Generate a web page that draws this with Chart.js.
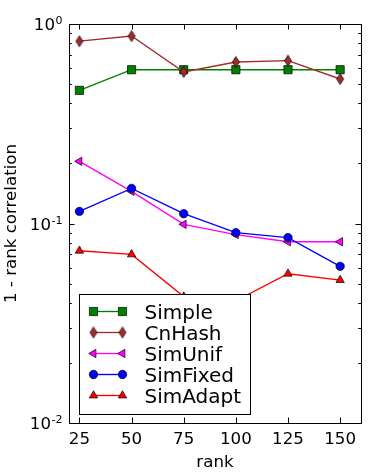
<!DOCTYPE html>
<html><head><meta charset="utf-8">
<script src="https://cdn.jsdelivr.net/npm/chart.js@4/dist/chart.umd.min.js"></script>
<style>html,body{margin:0;padding:0;background:#fff;}</style>
</head><body>
<canvas id="c" width="376" height="473" style="display:block;width:376px;height:473px"></canvas>
<script>
// ---- data ----
const ranks = [25, 50, 75, 100, 125, 150];
const seriesNames = ['Simple', 'CnHash', 'SimUnif', 'SimFixed', 'SimAdapt'];
const simple   = [0.465, 0.59, 0.59, 0.59, 0.59, 0.59];
const cnHash   = [0.82, 0.87, 0.575, 0.645, 0.655, 0.53];
const simUnif  = [0.205, 0.145, 0.099, 0.088, 0.081, 0.081];
const simFixed = [0.115, 0.150, 0.112, 0.090, 0.085, 0.061];
const simAdapt = [0.073, 0.070, 0.043, 0.041, 0.056, 0.052];
const xTicks = [25, 50, 75, 100, 125, 150];
const yTicks = [0.01, 0.1, 1];
const xLabel = 'rank';
const yLabel = '1 - rank correlation';

// ---- styles ----
function makeDiamond(color) {
  const c = document.createElement('canvas');
  c.width = 10; c.height = 14;
  const g = c.getContext('2d');
  g.beginPath();
  g.moveTo(5, 1.5); g.lineTo(8.5, 7); g.lineTo(5, 12.5); g.lineTo(1.5, 7); g.closePath();
  g.fillStyle = color; g.fill();
  g.lineWidth = 0.7; g.strokeStyle = '#000'; g.stroke();
  return c;
}
const styles = [
  { color: '#008000', pointStyle: 'rect', radius: 5.8, rotation: 0 },
  { color: '#A52A2A', pointStyle: makeDiamond('#A52A2A'), radius: 5, rotation: 0 },
  { color: '#FF00FF', pointStyle: 'triangle', radius: 4.8, rotation: -90 },
  { color: '#0000FF', pointStyle: 'circle', radius: 4.2, rotation: 0 },
  { color: '#FF0000', pointStyle: 'triangle', radius: 4.8, rotation: 0 }
];
const seriesValues = [simple, cnHash, simUnif, simFixed, simAdapt];
const FONT = 'DejaVu Sans';
const LABEL_SIZE = 16.67;

const datasets = seriesValues.map((vals, i) => ({
  label: seriesNames[i],
  data: ranks.map((r, j) => ({ x: r, y: vals[j] })),
  borderColor: styles[i].color,
  backgroundColor: styles[i].color,
  borderWidth: 1.35,
  pointStyle: styles[i].pointStyle,
  pointRadius: styles[i].radius,
  pointRotation: styles[i].rotation,
  pointBackgroundColor: styles[i].color,
  pointBorderColor: '#000',
  pointBorderWidth: 0.7,
  tension: 0,
  order: 10 - i
}));

const framePlugin = {
  id: 'mplFrame',
  afterDatasetsDraw(chart) {
    const ctx = chart.ctx;
    const a = chart.chartArea;
    const xs = chart.scales.x, ys = chart.scales.y;
    ctx.save();
    ctx.strokeStyle = '#000';
    ctx.lineWidth = 1;
    // ticks (inward, all four sides)
    ctx.beginPath();
    xTicks.forEach(v => {
      const px = Math.round(xs.getPixelForValue(v)) + 0.5;
      ctx.moveTo(px, a.bottom); ctx.lineTo(px, a.bottom - 5.5);
      ctx.moveTo(px, a.top); ctx.lineTo(px, a.top + 5.5);
    });
    for (let d = 0; d < yTicks.length; d++) {
      const base = yTicks[d];
      const py = Math.round(ys.getPixelForValue(base)) + 0.5;
      ctx.moveTo(a.left, py); ctx.lineTo(a.left + 5.5, py);
      ctx.moveTo(a.right, py); ctx.lineTo(a.right - 5.5, py);
      if (d < yTicks.length - 1) {
        for (let m = 2; m <= 9; m++) {
          const pm = Math.round(ys.getPixelForValue(base * m)) + 0.5;
          ctx.moveTo(a.left, pm); ctx.lineTo(a.left + 2.8, pm);
          ctx.moveTo(a.right, pm); ctx.lineTo(a.right - 2.8, pm);
        }
      }
    }
    ctx.stroke();
    ctx.strokeRect(a.left + 0.5, a.top + 0.5, a.right - a.left, a.bottom - a.top);

    // y tick labels: 10 with superscript exponent
    ctx.fillStyle = '#000';
    ctx.textBaseline = 'alphabetic';
    ctx.textAlign = 'right';
    yTicks.forEach(v => {
      const py = ys.getPixelForValue(v);
      const e = String(Math.round(Math.log10(v)));
      ctx.font = '11px "' + FONT + '"';
      const ew = ctx.measureText(e).width;
      const xr = a.left - 6.5;
      ctx.fillText(e, xr, py);
      ctx.font = LABEL_SIZE + 'px "' + FONT + '"';
      ctx.fillText('10', xr - ew - 0.5, py + 6);
    });

    // legend
    const L = a.left + 10.5, T = a.bottom - 128.5, W = 171, H = 120;
    ctx.fillStyle = '#fff';
    ctx.fillRect(L, T, W, H);
    ctx.lineWidth = 1;
    ctx.strokeStyle = '#000';
    ctx.strokeRect(L, T, W, H);
    ctx.font = '20px "' + FONT + '"';
    ctx.textAlign = 'left';
    ctx.textBaseline = 'alphabetic';
    chart.data.datasets.forEach((ds, i) => {
      const y = T + 17 + i * 21;
      const x1 = L + 14, x2 = L + 43;
      ctx.strokeStyle = ds.borderColor;
      ctx.lineWidth = ds.borderWidth;
      ctx.beginPath(); ctx.moveTo(x1, y); ctx.lineTo(x2, y); ctx.stroke();
      [x1, x2].forEach(px => {
        ctx.fillStyle = ds.pointBackgroundColor;
        ctx.strokeStyle = '#000';
        ctx.lineWidth = ds.pointBorderWidth;
        Chart.helpers.drawPoint(ctx, {
          pointStyle: ds.pointStyle, rotation: ds.pointRotation,
          radius: ds.pointRadius, borderWidth: ds.pointBorderWidth
        }, px, y);
      });
      ctx.fillStyle = '#000';
      ctx.fillText(ds.label, L + 65, y + 7.3);
    });
    ctx.restore();
  }
};

Chart.defaults.font.family = FONT;
Chart.defaults.color = '#000';

new Chart(document.getElementById('c'), {
  type: 'line',
  data: { datasets },
  plugins: [framePlugin],
  options: {
    responsive: false,
    devicePixelRatio: 1,
    animation: false,
    events: [],
    layout: { padding: { left: 0, right: 15, top: 24, bottom: 0 } },
    plugins: { legend: { display: false }, tooltip: { enabled: false } },
    scales: {
      x: {
        type: 'linear', min: 20, max: 160,
        afterBuildTicks: s => { s.ticks = xTicks.map(v => ({ value: v })); },
        afterFit: s => { s.height = 50; },
        grid: { display: false, drawTicks: false },
        border: { display: false },
        ticks: { font: { size: LABEL_SIZE }, padding: 7, maxRotation: 0, autoSkip: false, callback: v => String(v) },
        title: { display: true, text: xLabel, font: { size: LABEL_SIZE }, padding: { top: 0, bottom: 0 } }
      },
      y: {
        type: 'logarithmic', min: 0.01, max: 1,
        afterBuildTicks: s => { s.ticks = yTicks.map(v => ({ value: v })); },
        afterFit: s => { s.width = 69; },
        grid: { display: false, drawTicks: false },
        border: { display: false },
        ticks: { display: false },
        title: { display: true, text: yLabel, font: { size: LABEL_SIZE }, padding: { top: 2, bottom: 0 } }
      }
    }
  }
});
</script>
</body></html>
